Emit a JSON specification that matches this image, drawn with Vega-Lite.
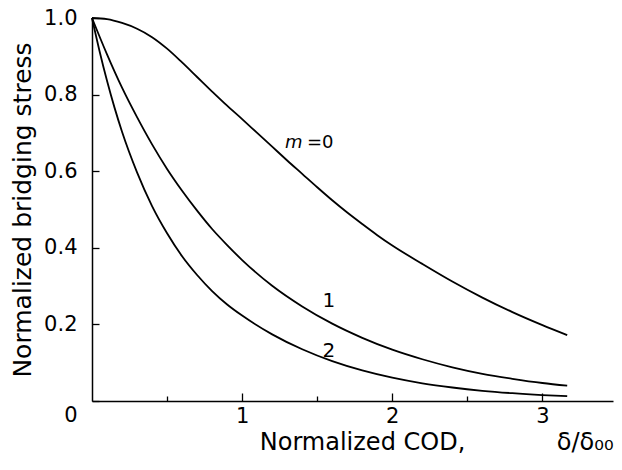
{
  "$schema": "https://vega.github.io/schema/vega-lite/v6.json",
  "width": 521,
  "height": 383,
  "autosize": "none",
  "padding": {"left": 92, "top": 18, "right": 9, "bottom": 69},
  "background": "white",
  "config": {
    "view": {"stroke": null},
    "font": "DejaVu Sans",
    "axis": {
      "grid": false,
      "domainColor": "black",
      "domainWidth": 1.5,
      "tickColor": "black",
      "tickWidth": 1.3,
      "labelColor": "black",
      "labelFont": "DejaVu Sans",
      "labelFontSize": 21,
      "titleFont": "DejaVu Sans",
      "titleFontSize": 24,
      "titleFontWeight": "normal",
      "titleColor": "black"
    }
  },
  "layer": [
    {
      "data": {
        "values": [
          {"m": "0", "x": 0, "y": 1.0},
          {"m": "0", "x": 0.1, "y": 0.997},
          {"m": "0", "x": 0.2, "y": 0.987},
          {"m": "0", "x": 0.3, "y": 0.972},
          {"m": "0", "x": 0.4, "y": 0.95},
          {"m": "0", "x": 0.5, "y": 0.92},
          {"m": "0", "x": 0.6, "y": 0.884},
          {"m": "0", "x": 0.7, "y": 0.846},
          {"m": "0", "x": 0.8, "y": 0.808},
          {"m": "0", "x": 0.9, "y": 0.771},
          {"m": "0", "x": 1.0, "y": 0.736},
          {"m": "0", "x": 1.1, "y": 0.7},
          {"m": "0", "x": 1.2, "y": 0.664},
          {"m": "0", "x": 1.3, "y": 0.628},
          {"m": "0", "x": 1.4, "y": 0.593},
          {"m": "0", "x": 1.5, "y": 0.558},
          {"m": "0", "x": 1.6, "y": 0.524},
          {"m": "0", "x": 1.7, "y": 0.492},
          {"m": "0", "x": 1.8, "y": 0.462},
          {"m": "0", "x": 1.9, "y": 0.433},
          {"m": "0", "x": 2.0, "y": 0.406},
          {"m": "0", "x": 2.2, "y": 0.358},
          {"m": "0", "x": 2.4, "y": 0.312},
          {"m": "0", "x": 2.6, "y": 0.27},
          {"m": "0", "x": 2.8, "y": 0.232},
          {"m": "0", "x": 3.0, "y": 0.198},
          {"m": "0", "x": 3.165, "y": 0.172},
          {"m": "1", "x": 0, "y": 1.0},
          {"m": "1", "x": 0.1, "y": 0.905},
          {"m": "1", "x": 0.2, "y": 0.818},
          {"m": "1", "x": 0.3, "y": 0.741},
          {"m": "1", "x": 0.4, "y": 0.67},
          {"m": "1", "x": 0.5, "y": 0.606},
          {"m": "1", "x": 0.6, "y": 0.549},
          {"m": "1", "x": 0.7, "y": 0.497},
          {"m": "1", "x": 0.8, "y": 0.449},
          {"m": "1", "x": 0.9, "y": 0.407},
          {"m": "1", "x": 1.0, "y": 0.368},
          {"m": "1", "x": 1.2, "y": 0.301},
          {"m": "1", "x": 1.4, "y": 0.247},
          {"m": "1", "x": 1.6, "y": 0.202},
          {"m": "1", "x": 1.8, "y": 0.165},
          {"m": "1", "x": 2.0, "y": 0.134},
          {"m": "1", "x": 2.2, "y": 0.109},
          {"m": "1", "x": 2.4, "y": 0.088},
          {"m": "1", "x": 2.6, "y": 0.071},
          {"m": "1", "x": 2.8, "y": 0.058},
          {"m": "1", "x": 3.0, "y": 0.047},
          {"m": "1", "x": 3.165, "y": 0.04},
          {"m": "2", "x": 0, "y": 1.0},
          {"m": "2", "x": 0.05, "y": 0.914},
          {"m": "2", "x": 0.1, "y": 0.836},
          {"m": "2", "x": 0.15, "y": 0.766},
          {"m": "2", "x": 0.2, "y": 0.703},
          {"m": "2", "x": 0.3, "y": 0.597},
          {"m": "2", "x": 0.4, "y": 0.509},
          {"m": "2", "x": 0.5, "y": 0.438},
          {"m": "2", "x": 0.6, "y": 0.378},
          {"m": "2", "x": 0.7, "y": 0.329},
          {"m": "2", "x": 0.8, "y": 0.287},
          {"m": "2", "x": 0.9, "y": 0.252},
          {"m": "2", "x": 1.0, "y": 0.223},
          {"m": "2", "x": 1.2, "y": 0.174},
          {"m": "2", "x": 1.4, "y": 0.135},
          {"m": "2", "x": 1.6, "y": 0.104},
          {"m": "2", "x": 1.8, "y": 0.0797},
          {"m": "2", "x": 2.0, "y": 0.0608},
          {"m": "2", "x": 2.2, "y": 0.0461},
          {"m": "2", "x": 2.4, "y": 0.0352},
          {"m": "2", "x": 2.6, "y": 0.0267},
          {"m": "2", "x": 2.8, "y": 0.0204},
          {"m": "2", "x": 3.0, "y": 0.0156},
          {"m": "2", "x": 3.165, "y": 0.0125}
        ]
      },
      "mark": {"type": "line", "color": "black", "strokeWidth": 1.8, "interpolate": "monotone"},
      "encoding": {
        "x": {
          "field": "x", "type": "quantitative",
          "scale": {"domain": [0, 3.47], "nice": false, "zero": false},
          "axis": {
            "title": "Normalized COD,\u00a0\u00a0\u00a0\u00a0\u00a0\u00a0\u00a0\u00a0\u00a0\u00a0\u00a0\u00a0δ/δ₀₀",
            "titleAnchor": "end",
            "titlePadding": 4,
            "values": [0.5, 1, 1.5, 2, 2.5, 3],
            "labelExpr": "datum.value % 1 === 0 ? format(datum.value, 'd') : ''",
            "tickSize": {"condition": {"test": "datum.value % 1 === 0", "value": -8}, "value": -5},
            "labelPadding": 12,
            "labelFlush": false
          }
        },
        "y": {
          "field": "y", "type": "quantitative",
          "scale": {"domain": [0, 1], "nice": false},
          "axis": {
            "title": "Normalized bridging stress",
            "titleFontSize": 25,
            "titlePadding": 8,
            "values": [0, 0.2, 0.4, 0.6, 0.8, 1.0],
            "labelExpr": "datum.value === 0 ? '0' : format(datum.value, '.1f')",
            "labelOffset": {"condition": {"test": "datum.value === 0", "value": 14}, "value": 0},
            "tickSize": -7,
            "labelPadding": 22,
            "labelFlush": false
          }
        },
        "detail": {"field": "m"}
      }
    },
    {
      "data": {"values": [{"x": 1.343, "y": 0.661, "text": "m"}]},
      "mark": {"type": "text", "font": "DejaVu Sans", "fontSize": 18, "fontStyle": "italic", "align": "center", "baseline": "alphabetic", "color": "black"},
      "encoding": {
        "x": {"field": "x", "type": "quantitative"},
        "y": {"field": "y", "type": "quantitative"},
        "text": {"field": "text"}
      }
    },
    {
      "data": {"values": [{"x": 1.52, "y": 0.661, "text": "=0"}]},
      "mark": {"type": "text", "font": "DejaVu Sans", "fontSize": 18, "align": "center", "baseline": "alphabetic", "color": "black"},
      "encoding": {
        "x": {"field": "x", "type": "quantitative"},
        "y": {"field": "y", "type": "quantitative"},
        "text": {"field": "text"}
      }
    },
    {
      "data": {"values": [{"x": 1.577, "y": 0.246, "text": "1"}, {"x": 1.577, "y": 0.1145, "text": "2"}]},
      "mark": {"type": "text", "font": "DejaVu Sans", "fontSize": 20, "align": "center", "baseline": "alphabetic", "color": "black"},
      "encoding": {
        "x": {"field": "x", "type": "quantitative"},
        "y": {"field": "y", "type": "quantitative"},
        "text": {"field": "text"}
      }
    }
  ]
}
